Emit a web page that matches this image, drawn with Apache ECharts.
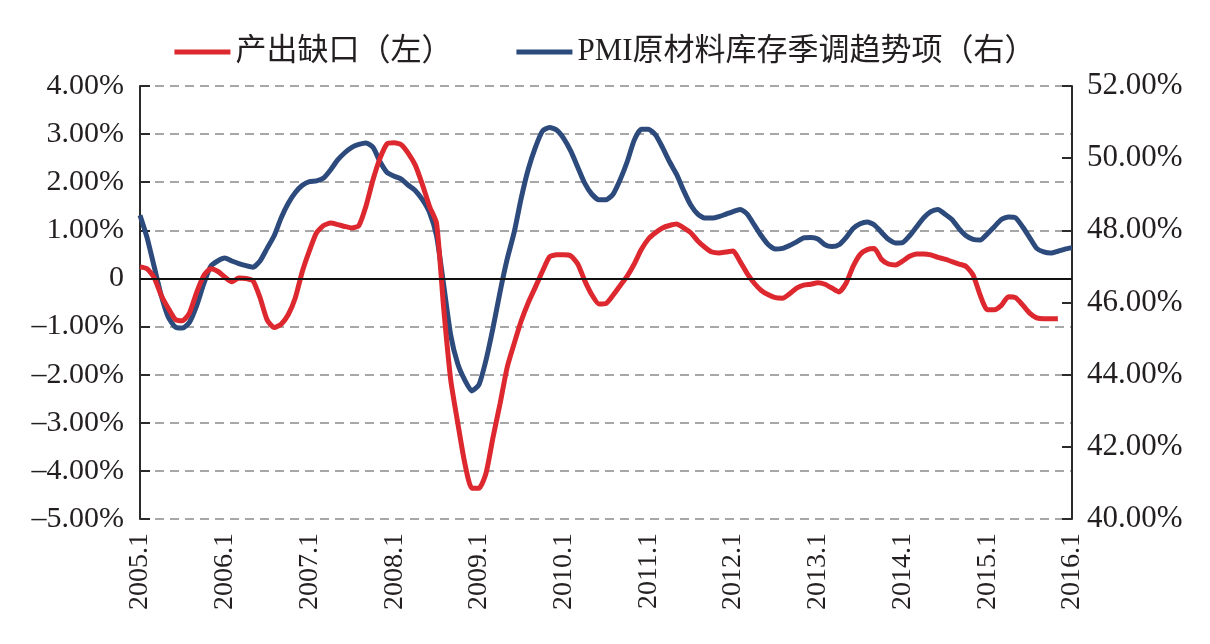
<!DOCTYPE html>
<html>
<head>
<meta charset="utf-8">
<script src="https://cdn.jsdelivr.net/npm/echarts@6/dist/echarts.min.js"></script>
<style>
  html, body { margin: 0; padding: 0; background: #fff; }
  #chart { width: 1210px; height: 644px; }
</style>
</head>
<body>
<div id="chart"></div>
<script>
// monthly, 2005.1 .. 2016.1
const months = [];
for (let y = 2005; y <= 2016; y++) {
  for (let m = 1; m <= 12; m++) {
    if (y === 2016 && m > 1) break;
    months.push(y + "." + m);
  }
}

// 产出缺口（左）, %
const outputGap = [
  0.24, 0.20, 0.02, -0.35, -0.62, -0.85, -0.88, -0.72, -0.30, 0.05, 0.20, 0.15,
  0.03, -0.07, 0.01, 0.00, -0.05, -0.40, -0.86, -1.02, -0.95, -0.75, -0.40, 0.15,
  0.58, 0.95, 1.10, 1.15, 1.12, 1.08, 1.05, 1.10, 1.50, 2.05, 2.50, 2.80,
  2.82, 2.78, 2.60, 2.35, 1.95, 1.50, 1.15, -0.60, -2.10, -3.00, -3.84, -4.36,
  -4.36, -4.05, -3.30, -2.60, -1.85, -1.35, -0.88, -0.50, -0.18, 0.15, 0.45, 0.49,
  0.49, 0.47, 0.30, -0.05, -0.34, -0.53, -0.52, -0.35, -0.15, 0.05, 0.30, 0.60,
  0.82, 0.95, 1.05, 1.10, 1.13, 1.05, 0.95, 0.78, 0.65, 0.55, 0.53, 0.55,
  0.57, 0.35, 0.10, -0.10, -0.25, -0.34, -0.40, -0.41, -0.32, -0.20, -0.14, -0.12,
  -0.09, -0.12, -0.20, -0.28, -0.10, 0.25, 0.50, 0.60, 0.62, 0.40, 0.30, 0.28,
  0.36, 0.46, 0.51, 0.51, 0.49, 0.44, 0.40, 0.35, 0.30, 0.25, 0.07, -0.35,
  -0.65, -0.65, -0.56, -0.38, -0.40, -0.55, -0.72, -0.82, -0.84, -0.84, -0.84
];

// PMI原材料库存季调趋势项（右）, %
const pmiStock = [
  48.42, 47.80, 47.00, 46.20, 45.60, 45.32, 45.29, 45.45, 45.90, 46.50, 47.00, 47.15,
  47.23, 47.15, 47.08, 47.02, 46.98, 47.15, 47.50, 47.85, 48.35, 48.75, 49.05, 49.25,
  49.35, 49.37, 49.45, 49.68, 49.95, 50.15, 50.30, 50.38, 50.42, 50.30, 49.90, 49.60,
  49.50, 49.42, 49.25, 49.10, 48.85, 48.50, 47.85, 46.50, 45.10, 44.30, 43.85, 43.55,
  43.72, 44.40, 45.30, 46.30, 47.20, 47.95, 48.90, 49.70, 50.30, 50.75, 50.85, 50.78,
  50.55, 50.20, 49.75, 49.30, 49.00, 48.85, 48.85, 49.00, 49.40, 49.90, 50.50, 50.80,
  50.80, 50.65, 50.30, 49.90, 49.55, 49.10, 48.70, 48.45, 48.34, 48.34, 48.38, 48.45,
  48.52, 48.58, 48.45, 48.15, 47.85, 47.60, 47.48, 47.50, 47.58, 47.68, 47.79, 47.80,
  47.76, 47.60, 47.55, 47.60, 47.80, 48.05, 48.18, 48.23, 48.15, 47.95, 47.75, 47.65,
  47.66, 47.85, 48.10, 48.35, 48.52, 48.58, 48.45, 48.30, 48.05, 47.85, 47.75, 47.73,
  47.90, 48.10, 48.30, 48.37, 48.35, 48.10, 47.80, 47.50, 47.40, 47.37, 47.42, 47.48,
  47.52
];

const leftTicks = { min: -5, max: 4, step: 1 };
const rightTicks = { min: 40, max: 52, step: 2 };

const FONT = "'Liberation Serif', 'Times New Roman', 'Noto Sans CJK SC', serif";
const TEXT = "#231f20";
const RED = "#dc282e";
const BLUE = "#2c4a7c";

function pct(v) {
  if (v === 0) return "0";
  const s = Math.abs(v).toFixed(2) + "%";
  return v < 0 ? "\u2013" + s : s;
}

const chart = echarts.init(document.getElementById("chart"), null, { renderer: "canvas" });
chart.setOption({
  animation: false,
  backgroundColor: "#fff",
  textStyle: { fontFamily: FONT, color: TEXT },
  legend: {
    top: 31,
    left: "center",
    itemWidth: 56,
    itemHeight: 5,
    itemGap: 64,
    icon: "rect",
    textStyle: { fontFamily: FONT, fontSize: 31, color: TEXT, lineHeight: 32 },
    data: ["产出缺口（左）", "PMI原材料库存季调趋势项（右）"]
  },
  grid: { left: 140, right: 138, top: 86, bottom: 125 },
  xAxis: {
    type: "category",
    boundaryGap: false,
    data: months,
    axisLine: { show: false },
    axisTick: { show: false },
    splitLine: { show: false },
    axisLabel: {
      rotate: 90,
      margin: 14,
      fontSize: 28,
      fontFamily: FONT,
      color: TEXT,
      interval: (idx) => idx % 12 === 0
    }
  },
  yAxis: [
    {
      type: "value",
      position: "left",
      min: leftTicks.min,
      max: leftTicks.max,
      interval: leftTicks.step,
      axisLine: { show: true, lineStyle: { color: "#2b2b2b", width: 2 } },
      axisTick: { show: true, inside: true, length: 10, lineStyle: { color: "#2b2b2b", width: 2 } },
      splitLine: { show: true, lineStyle: { color: "#8a8a8a", width: 1.5, type: [9, 6] } },
      axisLabel: { margin: 16, fontSize: 30, fontFamily: FONT, color: TEXT, formatter: pct }
    },
    {
      type: "value",
      position: "right",
      min: rightTicks.min,
      max: rightTicks.max,
      interval: rightTicks.step,
      axisLine: { show: true, lineStyle: { color: "#2b2b2b", width: 2 } },
      axisTick: { show: true, inside: true, length: 10, lineStyle: { color: "#2b2b2b", width: 2 } },
      splitLine: { show: false },
      axisLabel: { margin: 15, fontSize: 31, fontFamily: FONT, color: TEXT, formatter: (v) => v.toFixed(2) + "%" }
    }
  ],
  series: [
    {
      name: "zero",
      type: "line",
      yAxisIndex: 0,
      data: [],
      z: 1,
      silent: true,
      markLine: {
        silent: true,
        symbol: "none",
        label: { show: false },
        lineStyle: { color: "#111", width: 2, type: "solid" },
        data: [{ yAxis: 0 }]
      }
    },
    {
      name: "产出缺口（左）",
      type: "line",
      yAxisIndex: 0,
      data: outputGap,
      showSymbol: false,
      smooth: 0.2,
      z: 3,
      lineStyle: { color: RED, width: 5 },
      itemStyle: { color: RED }
    },
    {
      name: "PMI原材料库存季调趋势项（右）",
      type: "line",
      yAxisIndex: 1,
      data: pmiStock,
      showSymbol: false,
      smooth: 0.2,
      z: 2,
      lineStyle: { color: BLUE, width: 5 },
      itemStyle: { color: BLUE }
    }
  ]
});
</script>
</body>
</html>
